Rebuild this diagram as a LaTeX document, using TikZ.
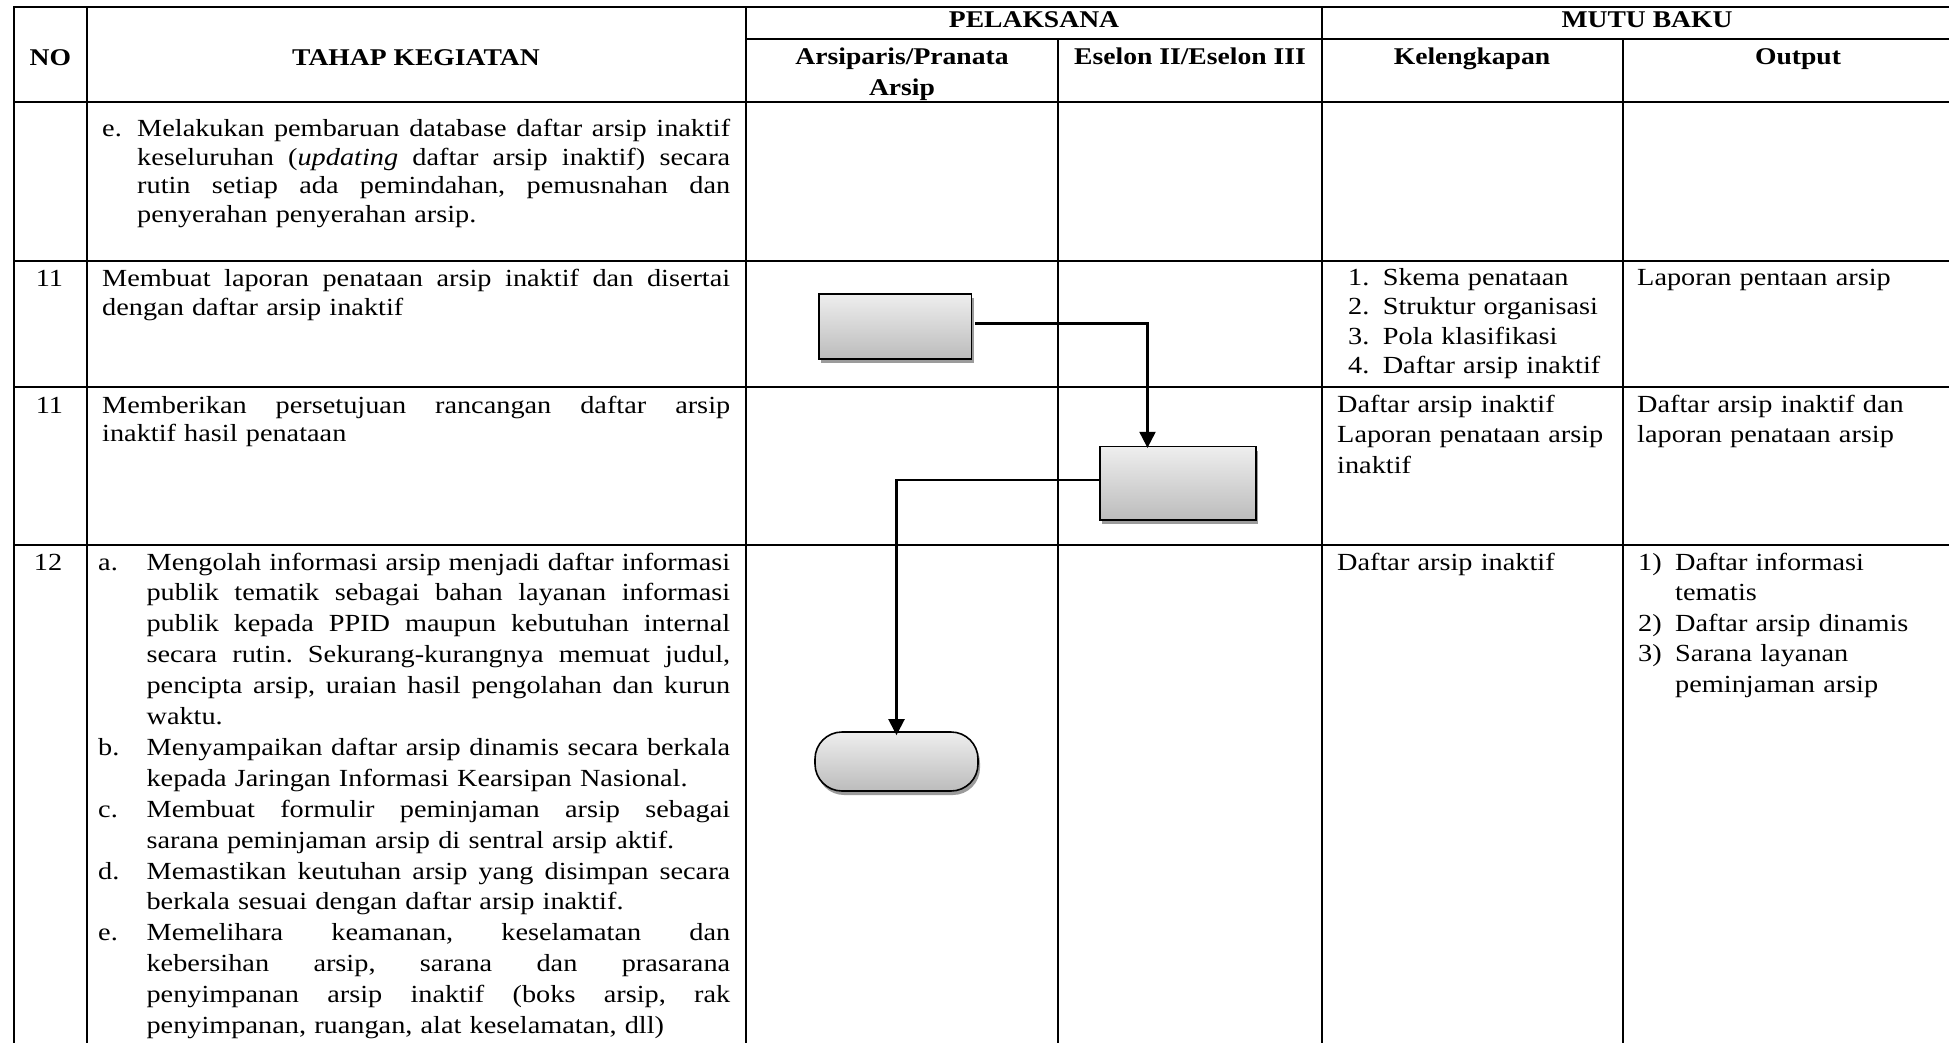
\documentclass[tikz,border=0pt]{standalone}
\usepackage{fontspec}
\setmainfont{Liberation Serif}[FakeStretch=1.15]
\usetikzlibrary{arrows.meta,shadows}
\definecolor{boxtop}{RGB}{238,238,238}
\definecolor{boxbot}{RGB}{188,188,188}
\definecolor{shadowgray}{RGB}{155,155,155}
\newlength{\jwd}
\newcommand{\jline}[1]{{\spaceskip=\fontdimen2\font plus 1fil minus \fontdimen4\font\relax\makebox[\jwd][s]{#1}}}
\begin{document}
\frenchspacing
\begin{tikzpicture}[x=1pt,y=-1pt,
  tbl/.style={line width=2pt, line cap=rect},
  hd/.style={font=\fontsize{24}{31}\selectfont\bfseries, inner sep=0pt, anchor=base},
  bodyA/.style={font=\fontsize{24.6}{28.5}\selectfont, inner sep=0pt, anchor=base west, align=left},
  bodyB/.style={font=\fontsize{24.6}{30.9}\selectfont, inner sep=0pt, anchor=base west, align=left},
  listA/.style={font=\fontsize{24.6}{29.6}\selectfont, inner sep=0pt, anchor=base west, align=left},
  listB/.style={font=\fontsize{24.6}{30.5}\selectfont, inner sep=0pt, anchor=base west, align=left},
  procbox/.style={rectangle, draw=black, line width=1.6pt, top color=boxtop, bottom color=boxbot,
    drop shadow={shadow xshift=2pt, shadow yshift=-4pt, fill=shadowgray, opacity=1}, inner sep=0pt},
  termbox/.style={procbox, rounded corners=27pt},
  flow/.style={line width=2.1pt, -{Triangle[length=16pt,width=16pt]}},
]
\useasboundingbox (0,0) rectangle (1949,1043);
\fill[white] (0,0) rectangle (1949,1043);
\clip (0,0) rectangle (1949,1043);

% table grid
\draw[tbl] (14,6.7) -- (1973,6.7)
           (746,39.3) -- (1973,39.3)
           (14,101.7) -- (1973,101.7)
           (14,261) -- (1973,261)
           (14,386.7) -- (1973,386.7)
           (14,545) -- (1973,545);
\draw[tbl] (14,6.7) -- (14,1060)
           (86.7,6.7) -- (86.7,1060)
           (746,6.7) -- (746,1060)
           (1057.6,39.3) -- (1057.6,1060)
           (1322,6.7) -- (1322,1060)
           (1623,39.3) -- (1623,1060)
           (1973,6.7) -- (1973,1060);

% headers
\node[hd] (hno) at (50.3,66) {NO};
\node[hd] (htahap) at (416,66) {TAHAP KEGIATAN};
\node[hd] (hpel) at (1034,28) {PELAKSANA};
\node[hd] (hmutu) at (1647,28) {MUTU BAKU};
\node[hd, text width=290pt, align=center] (harsip) at (902,64.5) {Arsiparis/Pranata\\Arsip};
\node[hd] (hesl) at (1190,64.5) {Eselon II/Eselon III};
\node[hd] (hkel) at (1472,64.5) {Kelengkapan};
\node[hd] (hout) at (1798,64.5) {Output};

% row e
\node[bodyA] (le) at (102,137) {e.};
\node[bodyA, text width=593pt] (te) at (137,137) {\setlength{\jwd}{593pt}%
\jline{Melakukan pembaruan database daftar arsip inaktif}\\
\jline{keseluruhan (\textit{updating} daftar arsip inaktif) secara}\\
\jline{rutin setiap ada pemindahan, pemusnahan dan}\\
penyerahan penyerahan arsip.};

% row 11 a
\node[bodyA, anchor=base] (n11a) at (49.5,286.7) {11};
\node[bodyA, text width=628pt] (t11a) at (102,286.7) {\setlength{\jwd}{628pt}%
\jline{Membuat laporan penataan arsip inaktif dan disertai}\\
dengan daftar arsip inaktif};
\node[listA, text width=30pt] (k11num) at (1348,285) {1.\\2.\\3.\\4.};
\node[listA, text width=235pt] (k11a) at (1382.6,285) {Skema penataan\\Struktur organisasi\\Pola klasifikasi\\Daftar arsip inaktif};
\node[listA, text width=300pt] (o11a) at (1637,285) {Laporan pentaan arsip};

% row 11 b
\node[bodyA, anchor=base] (n11b) at (49.5,413) {11};
\node[bodyA, text width=628pt] (t11b) at (102,413) {\setlength{\jwd}{628pt}%
\jline{Memberikan persetujuan rancangan daftar arsip}\\
inaktif hasil penataan};
\node[listB, text width=280pt] (k11b) at (1337,412) {Daftar arsip inaktif\\Laporan penataan arsip\\inaktif};
\node[listB, text width=300pt] (o11b) at (1637,412) {Daftar arsip inaktif dan\\laporan penataan arsip};

% row 12
\node[bodyB, anchor=base] (n12) at (48,570) {12};
\node[bodyB] (la) at (98,570) {a.};
\node[bodyB] (lb) at (98,755.4) {b.};
\node[bodyB] (lc) at (98,817.2) {c.};
\node[bodyB] (ld) at (98,879) {d.};
\node[bodyB] (lE) at (98,940.8) {e.};
\node[bodyB, text width=583.6pt] (t12) at (146.4,570) {\setlength{\jwd}{583.6pt}%
\jline{Mengolah informasi arsip menjadi daftar informasi}\\
\jline{publik tematik sebagai bahan layanan informasi}\\
\jline{publik kepada PPID maupun kebutuhan internal}\\
\jline{secara rutin. Sekurang-kurangnya memuat judul,}\\
\jline{pencipta arsip, uraian hasil pengolahan dan kurun}\\
waktu.\\
\jline{Menyampaikan daftar arsip dinamis secara berkala}\\
kepada Jaringan Informasi Kearsipan Nasional.\\
\jline{Membuat formulir peminjaman arsip sebagai}\\
sarana peminjaman arsip di sentral arsip aktif.\\
\jline{Memastikan keutuhan arsip yang disimpan secara}\\
berkala sesuai dengan daftar arsip inaktif.\\
\jline{Memelihara keamanan, keselamatan dan}\\
\jline{kebersihan arsip, sarana dan prasarana}\\
\jline{penyimpanan arsip inaktif (boks arsip, rak}\\
penyimpanan, ruangan, alat keselamatan, dll)};
\node[listB, text width=280pt] (k12) at (1337,570) {Daftar arsip inaktif};
\node[listB] (o12n1) at (1638,570) {1)};
\node[listB] (o12n2) at (1638,631) {2)};
\node[listB] (o12n3) at (1638,661.5) {3)};
\node[listB, text width=270pt] (o12) at (1675,570) {Daftar informasi\\tematis\\Daftar arsip dinamis\\Sarana layanan\\peminjaman arsip};

% flow shapes
\node[procbox, minimum width=152.5pt, minimum height=65pt] (b1) at (895.3,326.5) {};
\node[procbox, minimum width=156pt, minimum height=73.3pt] (b2) at (1178,483.3) {};
\node[termbox, minimum width=163pt, minimum height=59pt] (t1) at (896.5,761.5) {};

% connectors
\draw[flow] ([xshift=3pt,yshift=3pt]b1.east) -| ([xshift=-30.5pt,yshift=-2pt]b2.north);
\draw[flow] ([yshift=3pt]b2.west) -| ([yshift=-4pt]t1.north);
\end{tikzpicture}
\end{document}
